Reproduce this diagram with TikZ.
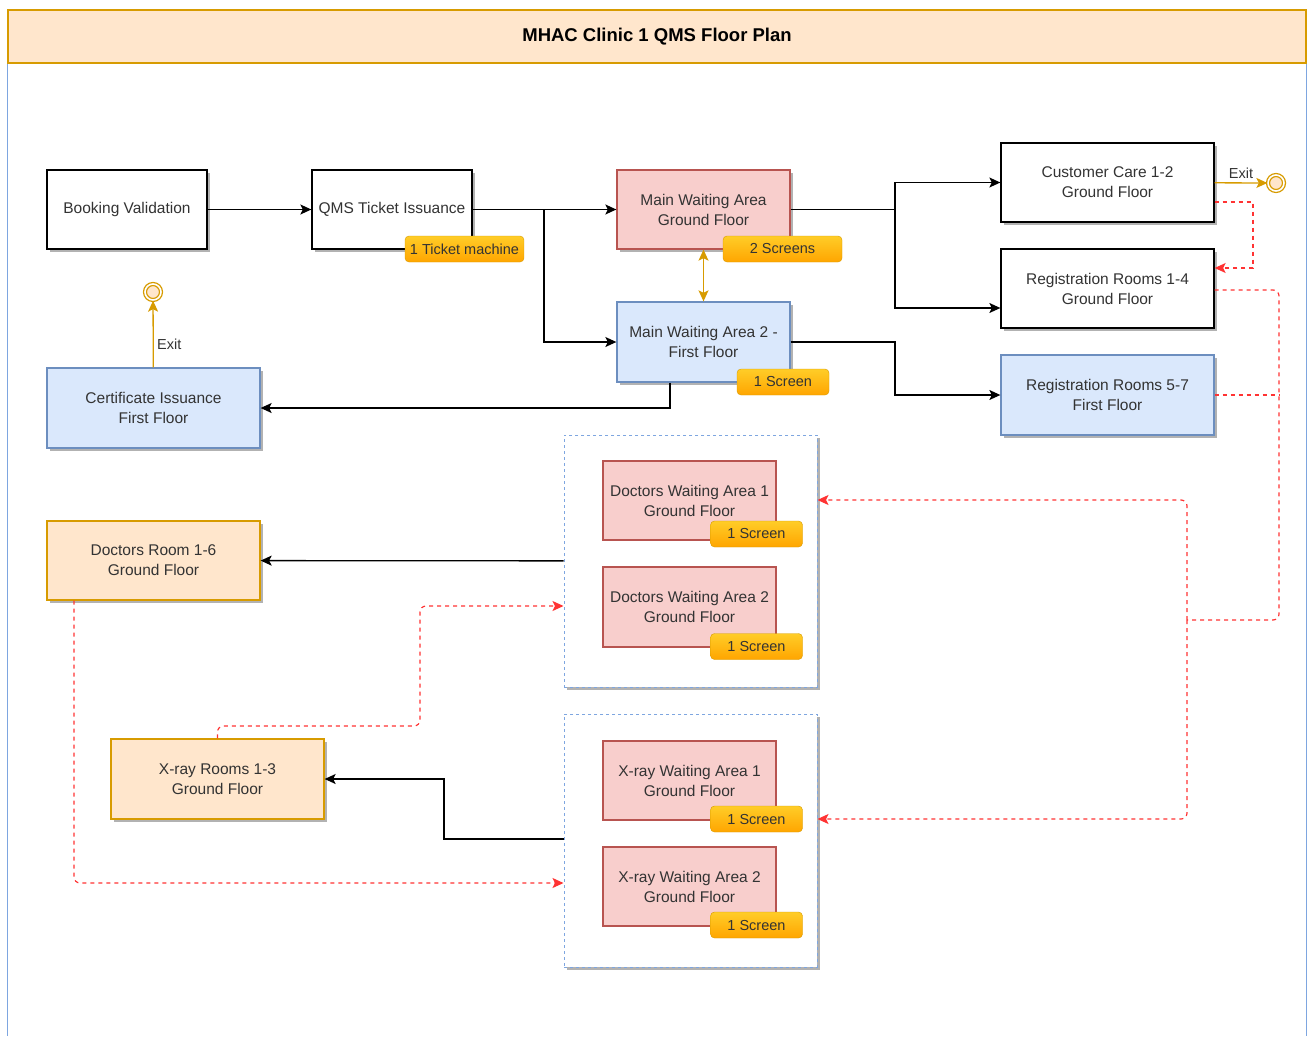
\documentclass[tikz,border=0pt]{standalone}
\usepackage{fontspec}
\setmainfont{Liberation Sans}
\usetikzlibrary{arrows.meta,shadows}
\definecolor{txt}{HTML}{333333}
\definecolor{redfill}{HTML}{F8CECC}
\definecolor{redline}{HTML}{B85450}
\definecolor{bluefill}{HTML}{DAE8FC}
\definecolor{blueline}{HTML}{6C8EBF}
\definecolor{orfill}{HTML}{FFE6CC}
\definecolor{orline}{HTML}{D79B00}
\definecolor{tagtop}{HTML}{FFCD28}
\definecolor{tagbot}{HTML}{FFA500}
\definecolor{framec}{HTML}{7EA6E0}
\definecolor{dashred}{HTML}{FF3333}
\newcommand{\roomfont}{\fontsize{15.5}{20}\selectfont}
\newcommand{\tagfont}{\fontsize{14.5}{16}\selectfont}

\tikzset{
    area/.style={draw=black, line width=1.3pt, fill=white, minimum width=160pt,
        minimum height=79pt, inner sep=0pt, align=center, text=txt, font=\roomfont},
    room/.style={area, drop shadow={shadow xshift=3pt, shadow yshift=-3pt, fill=black!30, opacity=1}},
    mid/.style={minimum width=173pt},
    wide/.style={minimum width=213pt},
    redroom/.style={draw=redline, fill=redfill},
    blueroom/.style={draw=blueline, fill=bluefill},
    orroom/.style={draw=orline, fill=orfill},
    group/.style={draw=framec, dash pattern=on 3pt off 3pt, line width=1pt, fill=white,
        minimum width=253pt, minimum height=252pt,
        drop shadow={shadow xshift=3pt, shadow yshift=-3pt, fill=black!30, opacity=1}},
    tag/.style={draw=orline, rounded corners=4pt, top color=tagtop, bottom color=tagbot,
        minimum width=92pt, minimum height=26pt, inner sep=0pt, text=txt, font=\tagfont},
    header/.style={draw=orline, line width=1.3pt, fill=orfill, minimum width=1298pt,
        minimum height=53pt, font=\bfseries\fontsize{18.5}{22}\selectfont},
    exitnode/.style={circle, draw=orline, line width=1.3pt, double=white, double distance=1.6pt,
        fill=orfill, minimum size=16pt, inner sep=0pt},
    tip/.tip={Stealth[length=11pt, width=10pt, inset=2.5pt]},
    flow/.style={draw=black, line width=1.3pt, -tip},
    golden/.style={draw=orline, line width=1.3pt},
    reddash/.style={draw=dashred, line width=1.2pt, dash pattern=on 4pt off 4pt,
        rounded corners=6pt, -tip},
}

\begin{document}
\begin{tikzpicture}[x=1pt, y=-1pt]
    \useasboundingbox (0,0) rectangle (1311,1036);
    \node (title) [header] at (657,36.5) {MHAC Clinic 1 QMS Floor Plan};
    \draw[framec, line width=1.3pt] (title.south west) -- (title.south west |- 0,1036);
    \draw[framec, line width=1.3pt] (title.south east) -- (title.south east |- 0,1036);

    \node (book) [room] at (127,209.5) {Booking Validation};
    \node (qms) [room] at (392,209.5) {QMS Ticket Issuance};
    \node (main) [room, mid, redroom] at (703.5,209.5) {Main Waiting Area\\Ground Floor};
    \node (main2) [room, mid, blueroom, minimum height=80pt] at (703.5,342) {Main Waiting Area 2 -\\First Floor};
    \node (care) [room, wide] at (1107.5,182.5) {Customer Care 1-2\\Ground Floor};
    \node (reg1) [room, wide] at (1107.5,288.5) {Registration Rooms 1-4\\Ground Floor};
    \node (reg5) [room, wide, blueroom, minimum height=80pt] at (1107.5,395) {Registration Rooms 5-7\\First Floor};
    \node (cert) [room, wide, blueroom, minimum height=80pt] at (153.5,408) {Certificate Issuance\\First Floor};
    \node (docroom) [room, wide, orroom] at (153.5,560.5) {Doctors Room 1-6\\Ground Floor};
    \node (xroom) [room, wide, orroom, minimum height=80pt] at (217.5,779) {X-ray Rooms 1-3\\Ground Floor};

    \node (docgrp) [group] at (690.5,561) {};
    \node (xgrp) [group, minimum height=253pt] at (690.5,840.5) {};
    \node (dwa1) [area, mid, redroom] at (689.5,500.5) {Doctors Waiting Area 1\\Ground Floor};
    \node (dwa2) [area, mid, redroom, minimum height=80pt] at (689.5,607) {Doctors Waiting Area 2\\Ground Floor};
    \node (xwa1) [area, mid, redroom] at (689.5,780.5) {X-ray Waiting Area 1\\Ground Floor};
    \node (xwa2) [area, mid, redroom] at (689.5,886.5) {X-ray Waiting Area 2\\Ground Floor};

    \node (exit1) [exitnode] at (153,292) {};
    \node (exit2) [exitnode] at (1276,183) {};

    \coordinate (split1) at (544,209.5);
    \coordinate (split2) at (895,209.5);
    \coordinate (redjoin) at (1187,620);

    \draw[flow] (book) -- (qms);
    \draw[flow] (qms) -- (main);
    \draw[flow] (split1) |- (main2);
    \draw[line width=1.3pt] (main) -- (split2);
    \draw[flow] (split2) |- (care);
    \draw[flow] (split2) |- (reg1.west |- 0,308);
    \draw[flow] (main2) -- (main2.east -| 895,0) |- (reg5);
    \draw[flow] (main2.south -| 670,0) |- (cert);
    \draw[flow] (docgrp) -- (docroom);
    \draw[flow] (xgrp.west |- 0,839) -- (444,839) |- (xroom);
    \draw[golden, tip-tip] (main) -- (main2);
    \draw[golden, -tip] (cert) -- node[pos=0.35, right, text=txt, font=\tagfont] {Exit} (exit1);
    \draw[golden, -tip] (care) -- node[above, text=txt, font=\tagfont] {Exit} (exit2);

    \draw[reddash, rounded corners=0pt] (care.east |- 0,202) -| (1253,268) -- (reg1.east |- 0,268);
    \draw[reddash, -] (reg1.east |- 0,290) -| (1279,620) -- (redjoin);
    \draw[reddash, -] (reg5) -- (reg5.east -| 1279,0);
    \draw[reddash] (redjoin) |- (docgrp.east |- 0,500);
    \draw[reddash] (redjoin) |- (xgrp.east |- 0,819);
    \draw[reddash] (docroom.south -| 74,0) |- (xgrp.west |- 0,883);
    \draw[reddash] (xroom) -- (xroom.north |- 0,726) -| (420,606) -- (docgrp.west |- 0,606);

    \node (tagqms) [tag, minimum width=119pt] at (464.5,249) {1 Ticket machine};
    \node (tagmain) [tag, minimum width=119pt] at (782.5,249) {2 Screens};
    \node (tagmain2) [tag] at (783,382) {1 Screen};
    \node (tagdwa1) [tag] at (756.5,534) {1 Screen};
    \node (tagdwa2) [tag] at (756.5,646.5) {1 Screen};
    \node (tagxwa1) [tag] at (756.5,819) {1 Screen};
    \node (tagxwa2) [tag] at (756.5,925) {1 Screen};
\end{tikzpicture}
\end{document}
